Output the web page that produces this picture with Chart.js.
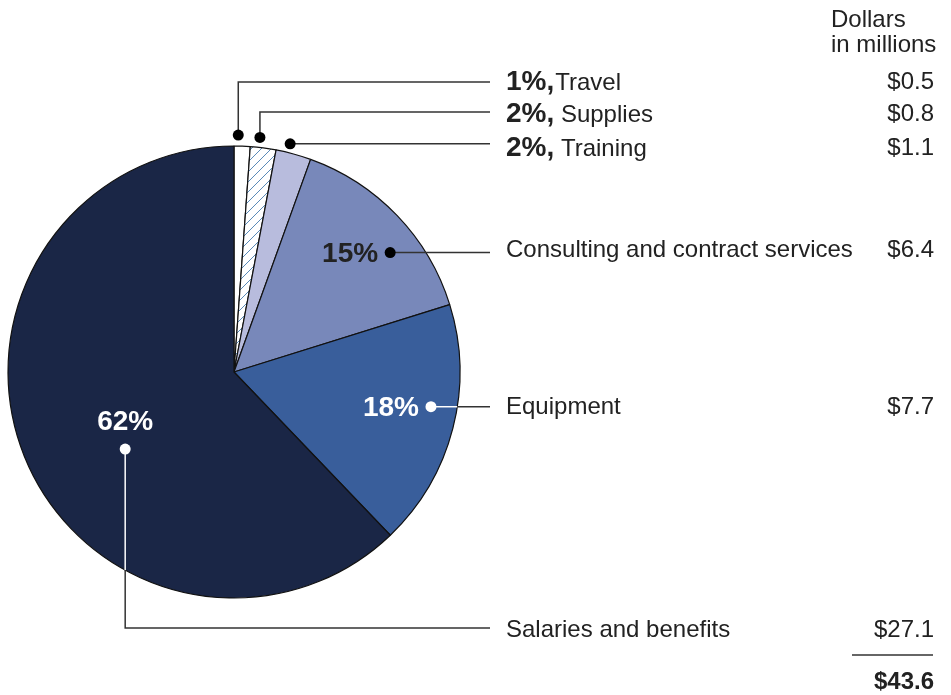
<!DOCTYPE html>
<html>
<head>
<meta charset="utf-8">
<script src="https://cdn.jsdelivr.net/npm/chart.js@4/dist/chart.umd.min.js"></script>
<style>
  html, body { margin: 0; padding: 0; background: #fff; }
  #wrap { width: 951px; height: 695px; position: relative; }
</style>
</head>
<body>
<div id="wrap"><canvas id="chartCostos" width="951" height="695"></canvas></div>
<script>
// Categorías y montos (millones de dólares), en sentido horario desde las 12
const categorias = ['Travel', 'Supplies', 'Training', 'Consulting and contract services', 'Equipment', 'Salaries and benefits'];
const montos = [0.5, 0.8, 1.1, 6.4, 7.7, 27.1];
const etiquetasPct = ['1%,', '2%,', '2%,', '15%', '18%', '62%'];
const etiquetasMonto = ['$0.5', '$0.8', '$1.1', '$6.4', '$7.7', '$27.1'];
const total = '$43.6';

const colores = ['#ffffff', 'rayado', '#b8bcdd', '#7888ba', '#395e9b', '#1a2646'];

const fuente = '24px "Liberation Sans", Arial, sans-serif';
const fuenteNegrita = 'bold 28px "Liberation Sans", Arial, sans-serif';

// trama diagonal para Supplies
function trama() {
    const c = document.createElement('canvas');
    c.width = 10; c.height = 10;
    const g = c.getContext('2d');
    g.fillStyle = '#fff';
    g.fillRect(0, 0, 10, 10);
    g.strokeStyle = '#5a8ab8';
    g.lineWidth = 1;
    g.beginPath();
    g.moveTo(-1, 11); g.lineTo(11, -1);
    g.stroke();
    return g.createPattern(c, 'repeat');
}

const ctx = document.getElementById('chartCostos').getContext('2d');
const fondo = colores.map(c => c === 'rayado' ? trama() : c);

// dónde sale cada línea guía: fracción del ángulo del sector y radio
const guias = [
    { f: 0.25, r: 11, abs: true, fila: 82 },
    { f: 0.33, r: 10, abs: true, fila: 112 },
    { f: 0.34, r: 9, abs: true, fila: null },
    { f: 0.62, r: 0.87, fila: null, pct: 'izq', color: '#222' },
    { f: 0.43, r: 0.885, fila: null, pct: 'izq', color: '#fff', blanco: true },
    { f: 0.44, r: 0.59, fila: 628, pct: 'arriba', color: '#fff', blanco: true }
];
const filasTexto = [82, 114, 148, 250, 407, 630];
const xFinLinea = 490, xTexto = 506, xMonto = 934;

const anotaciones = {
    id: 'anotaciones',
    afterDraw(chart) {
        const g = chart.ctx;
        const arcos = chart.getDatasetMeta(0).data;
        const R = arcos[0].outerRadius;
        const cx = arcos[0].x, cy = arcos[0].y;
        g.save();
        arcos.forEach((a, i) => {
            const q = guias[i];
            const ang = a.startAngle + (a.endAngle - a.startAngle) * q.f;
            const rr = q.abs ? R + q.r : R * q.r;
            const px = cx + rr * Math.cos(ang);
            const py = cy + rr * Math.sin(ang);
            const yLinea = q.fila === null ? py : q.fila;

            g.lineWidth = 1.5;
            if (q.fila !== null && Math.abs(q.fila - py) > 4) {
                // tramo vertical y luego horizontal
                if (q.blanco) {
                    const yBorde = cy + Math.sqrt(R * R - (px - cx) * (px - cx));
                    g.strokeStyle = '#fff';
                    g.beginPath(); g.moveTo(px, py); g.lineTo(px, yBorde); g.stroke();
                    g.strokeStyle = '#333';
                    g.beginPath(); g.moveTo(px, yBorde); g.lineTo(px, yLinea); g.lineTo(xFinLinea, yLinea); g.stroke();
                } else {
                    g.strokeStyle = '#333';
                    g.beginPath(); g.moveTo(px, py); g.lineTo(px, yLinea); g.lineTo(xFinLinea, yLinea); g.stroke();
                }
            } else {
                if (q.blanco) {
                    const xBorde = cx + Math.sqrt(R * R - (py - cy) * (py - cy));
                    g.strokeStyle = '#fff';
                    g.beginPath(); g.moveTo(px, py); g.lineTo(xBorde, py); g.stroke();
                    g.strokeStyle = '#333';
                    g.beginPath(); g.moveTo(xBorde, py); g.lineTo(xFinLinea, py); g.stroke();
                } else {
                    g.strokeStyle = '#333';
                    g.beginPath(); g.moveTo(px, py); g.lineTo(xFinLinea, py); g.stroke();
                }
            }
            g.fillStyle = q.blanco ? '#fff' : '#000';
            g.beginPath(); g.arc(px, py, 5.5, 0, Math.PI * 2); g.fill();

            // porcentaje dentro del sector
            g.textBaseline = 'middle';
            if (q.pct === 'izq') {
                g.font = fuenteNegrita;
                g.fillStyle = q.color;
                g.textAlign = 'right';
                g.fillText(etiquetasPct[i], px - 12, py + 2);
            } else if (q.pct === 'arriba') {
                g.font = fuenteNegrita;
                g.fillStyle = q.color;
                g.textAlign = 'center';
                g.fillText(etiquetasPct[i], px, py - 27);
            }

            // texto de la categoría
            g.fillStyle = '#222';
            g.textAlign = 'left';
            const yt = filasTexto[i];
            if (i < 3) {
                g.font = fuenteNegrita;
                g.fillText(etiquetasPct[i], xTexto, yt);
                const w = g.measureText(etiquetasPct[i]).width;
                g.font = fuente;
                g.fillText((i === 0 ? '' : ' ') + categorias[i], xTexto + w + (i === 0 ? 1 : 0), yt + 1);
            } else {
                g.font = fuente;
                g.fillText(categorias[i], xTexto, yt);
            }
            g.font = fuente;
            g.textAlign = 'right';
            g.fillText(etiquetasMonto[i], xMonto, yt);
        });

        // encabezado de la columna y total
        g.fillStyle = '#222';
        g.textAlign = 'left';
        g.font = fuente;
        g.fillText('Dollars', 831, 20);
        g.fillText('in millions', 831, 45);
        g.strokeStyle = '#333';
        g.lineWidth = 1.5;
        g.beginPath(); g.moveTo(852, 655); g.lineTo(933, 655); g.stroke();
        g.font = 'bold 24px "Liberation Sans", Arial, sans-serif';
        g.textAlign = 'right';
        g.fillText(total, xMonto, 682);
        g.restore();
    }
};

new Chart(ctx, {
    type: 'pie',
    data: {
        labels: categorias,
        datasets: [{
            data: montos,
            backgroundColor: fondo,
            borderColor: '#111',
            borderWidth: 1.2
        }]
    },
    options: {
        responsive: false,
        animation: false,
        radius: 226,
        layout: { padding: { left: 8, top: 146, right: 491, bottom: 97 } },
        plugins: { legend: { display: false }, tooltip: { enabled: false } }
    },
    plugins: [anotaciones]
});
</script>
</body>
</html>
